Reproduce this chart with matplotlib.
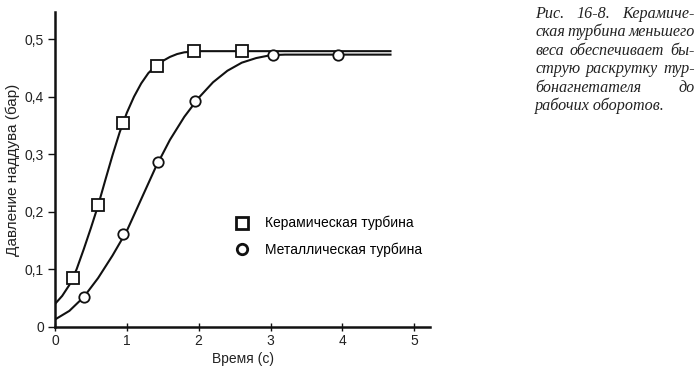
import matplotlib
matplotlib.use("Agg")
from matplotlib import pyplot as plt
from matplotlib.lines import Line2D

# measured points, ceramic turbine (time s, boost bar)
ceramic_t = [0.25, 0.6, 0.94, 1.42, 1.94, 2.6]
ceramic_p = [0.085, 0.211, 0.354, 0.454, 0.479, 0.479]
# curve through the ceramic points
ceramic_curve_t = [0.0, 0.1, 0.2, 0.3, 0.4, 0.5, 0.6, 0.7, 0.8, 0.9, 1.0, 1.1, 1.2,
                   1.3, 1.4, 1.5, 1.6, 1.7, 1.8, 1.9, 2.0, 2.2, 4.67]
ceramic_curve_p = [0.04, 0.054, 0.073, 0.1, 0.135, 0.172, 0.211, 0.255, 0.298, 0.338,
                   0.372, 0.40, 0.423, 0.441, 0.453, 0.462, 0.469, 0.474, 0.477, 0.478,
                   0.479, 0.479, 0.479]

# measured points, metal turbine
metal_t = [0.4, 0.94, 1.44, 1.95, 3.03, 3.94]
metal_p = [0.052, 0.162, 0.287, 0.392, 0.473, 0.473]
# curve through the metal points
metal_curve_t = [0.0, 0.2, 0.4, 0.6, 0.8, 1.0, 1.2, 1.4, 1.6, 1.8, 2.0, 2.2, 2.4,
                 2.6, 2.8, 3.0, 3.2, 4.67]
metal_curve_p = [0.013, 0.028, 0.052, 0.085, 0.124, 0.167, 0.222, 0.277, 0.325, 0.365,
                 0.398, 0.425, 0.445, 0.459, 0.467, 0.472, 0.473, 0.473]

series_labels = ['Керамическая турбина', 'Металлическая турбина']
x_ticks = [0, 1, 2, 3, 4, 5]
y_ticks = [0, 0.1, 0.2, 0.3, 0.4, 0.5]
y_tick_labels = ['0', '0,1', '0,2', '0,3', '0,4', '0,5']
x_label = 'Время (с)'
y_label = 'Давление наддува (бар)'
caption_lines = ['Рис. 16-8. Керамиче-',
                 'ская турбина меньшего',
                 'веса обеспечивает бы-',
                 'струю раскрутку тур-',
                 'бонагнетателя до',
                 'рабочих оборотов.']

W, H = 700, 368
plt.rcParams['font.family'] = ['Liberation Sans', 'DejaVu Sans']
fig = plt.figure(figsize=(W / 100, H / 100), dpi=100)
ax = fig.add_axes([55 / W, (H - 327) / H, 375 / W, 315 / H])

ink = '#111111'
# curves
ax.plot(ceramic_curve_t, ceramic_curve_p, color=ink, lw=1.5, zorder=2)
ax.plot(metal_curve_t, metal_curve_p, color=ink, lw=1.5, zorder=2)
# markers
ax.plot(ceramic_t, ceramic_p, ls='none', marker='s', ms=8, mfc='white', mec=ink,
        mew=1.3, zorder=3)
ax.plot(metal_t, metal_p, ls='none', marker='o', ms=7.5, mfc='white', mec=ink,
        mew=1.3, zorder=3)

ax.set_xlim(0, 5.22)
ax.set_ylim(0, 0.547)
ax.set_xticks(x_ticks)
ax.set_xticklabels([str(t) for t in x_ticks])
ax.set_yticks(y_ticks)
ax.set_yticklabels(y_tick_labels)
for side in ['top', 'right']:
    ax.spines[side].set_visible(False)
for side in ['left', 'bottom']:
    ax.spines[side].set_linewidth(1.8)
    ax.spines[side].set_color(ink)
ax.tick_params(axis='x', direction='inout', length=6, width=1, colors=ink,
               labelsize=10, pad=2, labelcolor='#222222')
ax.tick_params(axis='y', direction='out', length=5, width=1, colors=ink,
               labelsize=10, pad=3, labelcolor='#222222')
ax.set_xlabel(x_label, fontsize=10, color='#222222', labelpad=3)
ax.set_ylabel(y_label, fontsize=11, color='#222222', labelpad=3)

# legend, markers only
handles = [Line2D([], [], ls='none', marker='s', ms=8, mfc='white', mec=ink, mew=2),
           Line2D([], [], ls='none', marker='o', ms=7.5, mfc='white', mec=ink, mew=2)]
ax.legend(handles, series_labels, loc='upper left', frameon=False, fontsize=10,
          borderpad=0, handlelength=1.0, handletextpad=1.15, labelspacing=0.9,
          bbox_to_anchor=(228 / W, 1 - 209 / H), bbox_transform=fig.transFigure)

# caption on the right, justified by hand
cap_left, cap_right = 535, 695
cap_base, cap_step = 18, 18.4
renderer = fig.canvas.get_renderer()
cap_font = dict(family='Liberation Serif', style='italic', fontsize=11.6,
                color='#222222', va='baseline')
for i, line in enumerate(caption_lines):
    y = 1 - (cap_base + i * cap_step) / H
    words = line.split()
    if i == len(caption_lines) - 1:
        fig.text(cap_left / W, y, line, **cap_font)
        continue
    texts = [fig.text(0, y, w, **cap_font) for w in words]
    widths = [t.get_window_extent(renderer).width for t in texts]
    gap = max(2.5, (cap_right - cap_left - sum(widths)) / (len(words) - 1))
    x = cap_left
    for t, w in zip(texts, widths):
        t.set_x(x / W)
        x += w + gap

fig.savefig('out.png', dpi=100)
